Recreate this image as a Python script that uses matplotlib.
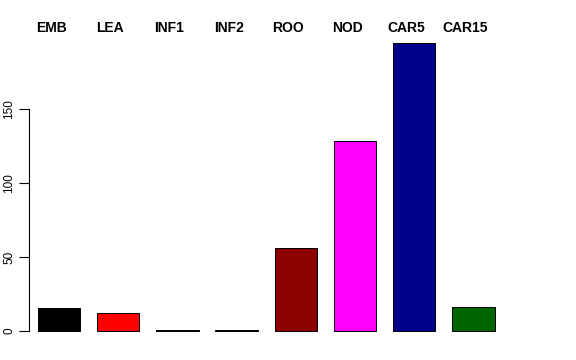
import matplotlib
matplotlib.use("Agg")
import matplotlib.pyplot as plt
from matplotlib.transforms import offset_copy

# tissue read counts
tissues = ["EMB", "LEA", "INF1", "INF2", "ROO", "NOD", "CAR5", "CAR15"]
counts = [15.3, 11.9, 0.6, 0.6, 56.0, 128.4, 194.6, 16.2]
colours = ["black", "red", "#2f4a2f", "#2a2a5a", "darkred", "magenta", "darkblue", "darkgreen"]
yticks = [0, 50, 100, 150]

plt.rcParams["font.family"] = ["Liberation Sans", "DejaVu Sans"]

fig = plt.figure(figsize=(5.76, 3.6), dpi=100)
ax = fig.add_axes([29 / 576, 20 / 360, 520 / 576, 300 / 360])

# barplot layout: width 1, space 0.4
centers = [0.9 + 1.4 * i for i in range(len(tissues))]
ax.bar(centers, counts, width=1.0, color=colours, edgecolor="black", linewidth=0.7)

ax.set_xlim(0.19, 0.19 + 520 / 42.29)
ax.set_ylim(-6.08, 196.6)

for s in ["top", "right", "bottom"]:
    ax.spines[s].set_visible(False)
ax.spines["left"].set_bounds(0, 150)
ax.spines["left"].set_linewidth(0.8)
ax.set_xticks([])
ax.set_yticks(yticks)
ax.set_yticklabels([str(t) for t in yticks], rotation=90, va="center", fontsize=8.5)
ax.tick_params(axis="y", length=7, width=0.8, pad=3)

# labels along the top, slightly left of each bar
trans = offset_copy(ax.get_xaxis_transform(), fig=fig, x=-8, y=0, units="dots")
for c, name in zip(centers, tissues):
    ax.text(c, 1 + 12.5 / 300, name, transform=trans, fontsize=10,
            fontweight="bold", ha="center", va="center", clip_on=False)

fig.savefig("out.png", dpi=100)
